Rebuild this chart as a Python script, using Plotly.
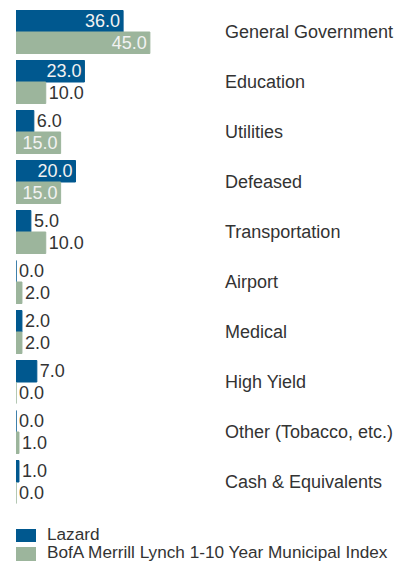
import plotly.graph_objects as go

categories = ["General Government", "Education", "Utilities", "Defeased", "Transportation",
              "Airport", "Medical", "High Yield", "Other (Tobacco, etc.)", "Cash & Equivalents"]
lazard = [36.0, 23.0, 6.0, 20.0, 5.0, 0.0, 2.0, 7.0, 0.0, 1.0]
bofa = [45.0, 10.0, 15.0, 15.0, 10.0, 2.0, 2.0, 0.0, 1.0, 0.0]
series_names = ["Lazard", "BofA Merrill Lynch 1-10 Year Municipal Index"]
colors = ["#00588F", "#9CB59C"]

FONT = "Liberation Sans"
FS = 18
TXT = "#333333"

def positions(vals):
    return ["inside" if v >= 15 else "outside" for v in vals]

fig = go.Figure()
for name, vals, col in zip(series_names, [lazard, bofa], colors):
    fig.add_trace(go.Bar(
        y=categories, x=vals, orientation="h", name=name,
        marker=dict(color=col, line=dict(color=col, width=1)),
        text=[f"{v:.1f}" for v in vals],
        textposition=positions(vals),
        insidetextanchor="end",
        constraintext="none",
        insidetextfont=dict(color="#F2F2F2", size=FS, family=FONT),
        outsidetextfont=dict(color=TXT, size=FS, family=FONT),
        cliponaxis=False,
        showlegend=False,
    ))

W, H = 409, 563
ml, mr, mt, mb = 16, 189, 7, 56
plot_w = W - ml - mr
plot_h = H - mt - mb
scale = 2.975
fig.update_layout(
    width=W, height=H,
    margin=dict(l=ml, r=mr, t=mt, b=mb, pad=0),
    barmode="group", bargap=0.14, bargroupgap=0,
    plot_bgcolor="white", paper_bgcolor="white",
    font=dict(family=FONT, color=TXT, size=FS),
    xaxis=dict(range=[0, plot_w / scale], visible=False, fixedrange=True),
    yaxis=dict(autorange="reversed", side="right", showgrid=False, zeroline=False,
               showline=False, ticks="", ticklabelstandoff=4,
               tickfont=dict(size=FS, color=TXT, family=FONT)),
)

# Manual legend (series names from data lists)
leg_rows = [(529, 542, 533.5), (547, 561, 551.5)]
for name, col, (y0, y1, yc) in zip(series_names, colors, leg_rows):
    fig.add_shape(type="rect", xref="paper", yref="paper",
                  x0=(16 - ml) / plot_w, x1=(36 - ml) / plot_w,
                  y0=(H - mb - y0) / plot_h, y1=(H - mb - y1) / plot_h,
                  fillcolor=col, line=dict(width=0))
    fig.add_annotation(xref="paper", yref="paper",
                       x=(45 - ml) / plot_w, y=(H - mb - yc) / plot_h,
                       text=name, showarrow=False, xanchor="left", yanchor="middle",
                       font=dict(size=17.2, color=TXT, family=FONT))

fig.write_html("out.html")
